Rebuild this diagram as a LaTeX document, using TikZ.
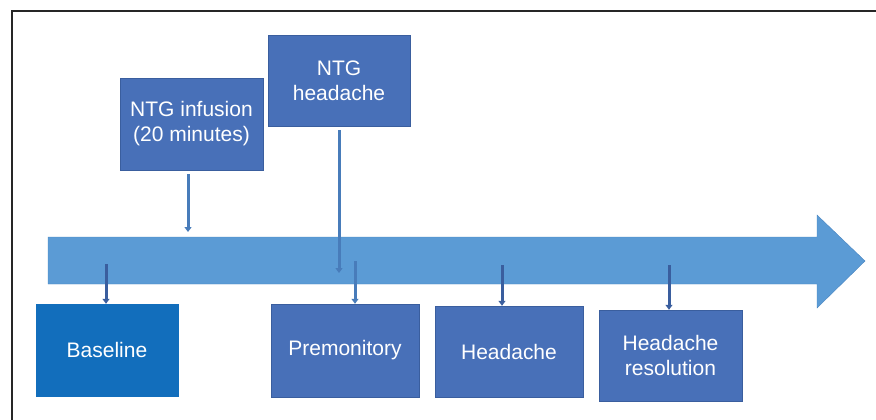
\documentclass[tikz,border=0pt]{standalone}
\usepackage{fontspec}
\setmainfont{Liberation Sans}
\usetikzlibrary{arrows.meta,positioning}

\definecolor{boxblue}{RGB}{72,112,184}
\definecolor{boxedge}{RGB}{58,94,158}
\definecolor{baseblue}{RGB}{18,110,188}
\definecolor{lineblue}{RGB}{91,155,213}
\definecolor{lineedge}{RGB}{72,132,192}
\definecolor{tickblue}{RGB}{72,124,186}

\begin{document}
\begin{tikzpicture}[
  x=1pt, y=-1pt,
  font=\fontsize{21}{25}\selectfont,
  phase/.style={draw=boxedge, fill=boxblue, text=white, align=center, inner sep=0pt, minimum width=144pt, minimum height=92pt},
  tick/.style={-{Triangle[width=7pt,length=5pt]}, line width=3pt, draw=tickblue}
]
  \useasboundingbox (0,0) rectangle (876,420);

  % frame
  \draw[line width=2.5pt, black!85] (876,11) -- (12,11) -- (12,420);

  % time line
  \draw[draw=lineedge, fill=lineblue] (48,237) -- (817,237) -- (817,215) -- (865,261)
    -- (817,308) -- (817,284) -- (48,284) -- cycle;

  \node[phase, minimum width=143pt] (infusion) at (191.5,124) {NTG infusion\\(20 minutes)};
  \node[phase, minimum width=142pt, minimum height=91pt] (ntghead) at (339,80.5) {NTG\\headache};
  \node[phase, fill=baseblue, draw=baseblue, minimum width=142pt] (baseline) at (107,350) {Baseline};
  \node[phase, minimum width=148pt, minimum height=93pt] (premon) at (345,350.5) {Premonitory};
  \node[phase, minimum width=148pt, minimum height=91pt] (headache) at (509,351.5) {Headache};
  \node[phase, minimum width=143pt, minimum height=91pt] (resolve) at (670.5,355.5) {Headache\\resolution};

  \coordinate (infEnd) at (188,232);
  \coordinate (ntgEnd) at (339,273);
  \coordinate (baseStart) at (106,264);
  \coordinate (premStart) at (355,261);
  \coordinate (headStart) at (502,265);
  \coordinate (resStart) at (669,265);

  \draw[tick, shorten <=4pt] (infusion.south -| infEnd) -- (infEnd);
  \draw[tick, shorten <=4pt] (ntghead.south) -- (ntgEnd);
  \draw[tick, draw=boxedge] (baseStart) -- (baseStart |- baseline.north);
  \draw[tick] (premStart) -- (premStart |- premon.north);
  \draw[tick, draw=boxedge] (headStart) -- (headStart |- headache.north);
  \draw[tick, draw=boxedge] (resStart) -- (resStart |- resolve.north);
\end{tikzpicture}
\end{document}
